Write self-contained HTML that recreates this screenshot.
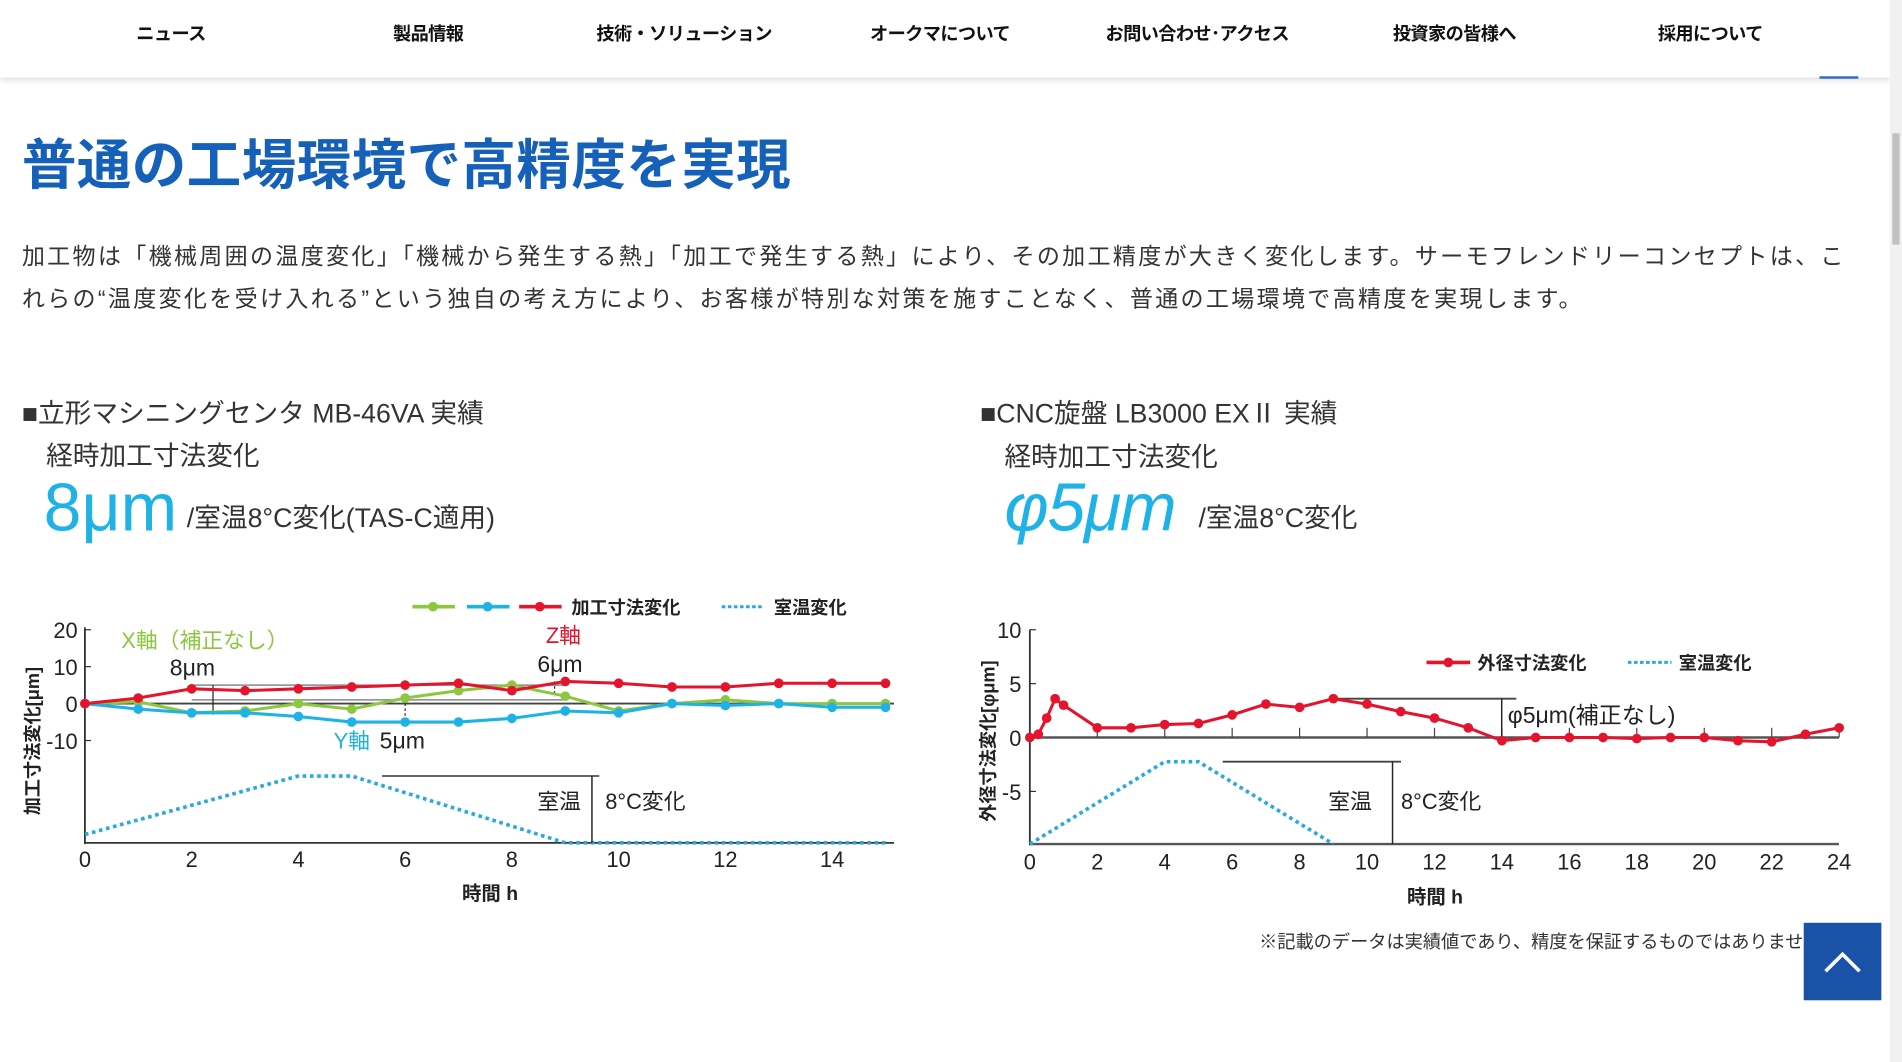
<!DOCTYPE html>
<html><head><meta charset="utf-8">
<style>
html,body{margin:0;padding:0;width:1902px;height:1062px;overflow:hidden;background:#fff;}
#wrap{position:absolute;left:0;top:0;width:1568px;height:877px;transform:scale(1.2130,1.2110);transform-origin:0 0;font-family:"Liberation Sans","Noto Sans CJK JP",sans-serif;color:#222;}
.abs{position:absolute;white-space:nowrap;}
#nav{position:absolute;left:0;top:0;width:1558px;height:64px;background:#fff;box-shadow:0 3px 5px rgba(0,0,0,0.12);}
#nav span{position:absolute;top:17px;font-size:15px;font-weight:bold;transform:translateX(-50%);color:#111;letter-spacing:-0.5px;}
</style></head><body>
<div id="wrap">
<div id="nav">
<span style="left:141px">ニュース</span>
<span style="left:353px">製品情報</span>
<span style="left:564px">技術・ソリューション</span>
<span style="left:775px">オークマについて</span>
<span style="left:987px">お問い合わせ･アクセス</span>
<span style="left:1199px">投資家の皆様へ</span>
<span style="left:1410px">採用について</span>
</div>
<div class="abs" style="left:1500px;top:63px;width:32px;height:2px;background:#2a6cc0"></div>
<div class="abs" style="left:1558px;top:0;width:10px;height:877px;background:#f1f1f1"><div style="position:absolute;left:2px;top:110px;width:6px;height:92px;background:#c1c1c1"></div></div>

<div class="abs" style="left:18px;top:100px;font-size:45px;font-weight:bold;color:#1560b8;letter-spacing:0.3px">普通の工場環境で高精度を実現</div>
<div class="abs" style="left:18px;top:195px;font-size:19px;line-height:35px;color:#333;letter-spacing:1.9px">加工物は「機械周囲の温度変化」「機械から発生する熱」「加工で発生する熱」により、その加工精度が大きく変化します。サーモフレンドリーコンセプトは、こ<br>れらの“温度変化を受け入れる”という独自の考え方により、お客様が特別な対策を施すことなく、普通の工場環境で高精度を実現します。</div>

<div class="abs" style="left:18px;top:324px;font-size:22px;color:#333">■立形マシニングセンタ MB-46VA 実績</div>
<div class="abs" style="left:38px;top:359px;font-size:22px;color:#333">経時加工寸法変化</div>
<div class="abs" style="left:36px;top:386px;font-size:56px;color:#1fb2e6">8μm</div>
<div class="abs" style="left:154px;top:410px;font-size:22px;color:#333">/室温8°C変化(TAS-C適用)</div>

<div class="abs" style="left:808px;top:324px;font-size:22px;color:#333">■CNC旋盤 LB3000 EXⅡ 実績</div>
<div class="abs" style="left:828px;top:360px;font-size:22px;color:#333">経時加工寸法変化</div>
<div class="abs" style="left:828px;top:386px;font-size:56px;color:#1fb2e6;font-style:italic;letter-spacing:-1px">φ5μm</div>
<div class="abs" style="left:988px;top:410px;font-size:22px;color:#333">/室温8°C変化</div>

<svg id="charts" class="abs" style="left:0;top:0" width="1568" height="877" font-family="Liberation Sans, Noto Sans CJK JP, sans-serif"></svg>

<div class="abs" style="left:1038px;top:767px;font-size:15px;color:#333">※記載のデータは実績値であり、精度を保証するものではありません。</div>
<div class="abs" style="left:1487px;top:762px;width:64px;height:64px;background:#1a52a8">
<svg width="64" height="64"><polyline points="18,40 32,26 46,40" fill="none" stroke="#fff" stroke-width="3"/></svg></div>
</div>
<script>
// Chart 1: MB-46VA
const c1Hours = [0,1,2,3,4,5,6,7,8,9,10,11,12,13,14,15];
const c1Z = [0,1.5,4,3.5,4,4.5,5,5.5,3.5,6,5.5,4.5,4.5,5.5,5.5,5.5];
const c1X = [0,0.5,-2.5,-2,0,-1.5,1.5,3.5,5,2,-2,0,1,0,0,0];
const c1Y = [0,-1.5,-2.5,-2.5,-3.5,-5,-5,-5,-4,-2,-2.5,0,-0.5,0,-1,-1];
const c1TempHours = [0,4,5,9,15];
const c1Temp = [1,8,8,0,0];
const c1YTicks = [20,10,0,-10];
const c1XTicks = [0,2,4,6,8,10,12,14];
// Chart 2: LB3000
const c2Hours = [0,0.25,0.5,0.75,1,2,3,4,5,6,7,8,9,10,11,12,13,14,15,16,17,18,19,20,21,22,23,24];
const c2D = [0,0.3,1.8,3.6,3.0,0.9,0.9,1.2,1.3,2.1,3.1,2.8,3.6,3.1,2.4,1.8,0.9,-0.3,0,0,0,-0.1,0,0,-0.3,-0.4,0.3,0.9];
const c2TempHours = [0,4,5,9];
const c2Temp = [0,8,8,0];
const c2YTicks = [10,5,0,-5];
const c2XTicks = [0,2,4,6,8,10,12,14,16,18,20,22,24];

const X1 = h => 70 + 44*h, Y1 = v => 581 - 3.05*v, T1 = t => 696 - 6.9*t;
const X2 = h => 849 + 27.8*h, Y2 = v => 609 - 8.9*v, T2 = t => 697 - 8.5*t;

const svg = document.getElementById('charts');
const NS = 'http://www.w3.org/2000/svg';
function mk(tag, attrs, parent){ const e=document.createElementNS(NS,tag); for(const k in attrs) e.setAttribute(k,attrs[k]); (parent||svg).appendChild(e); return e; }
function txt(x,y,s,attrs){ const t=mk('text',Object.assign({x:x,y:y,'font-size':17,fill:'#222'},attrs||{})); t.textContent=s; return t; }

let g1 = mk('g',{});


mk('line',{x1:70,y1:518,x2:70,y2:697,stroke:'#333','stroke-width':1.5},g1);
mk('line',{x1:70,y1:T1(0),x2:737,y2:T1(0),stroke:'#333','stroke-width':1.5},g1);
mk('line',{x1:70,y1:Y1(0),x2:737,y2:Y1(0),stroke:'#444','stroke-width':1.5},g1);
c1YTicks.forEach(v=>{ const t=txt(64,Y1(v)+7,String(v),{'text-anchor':'end','font-size':18});
  
 mk('line',{x1:70,y1:Y1(v),x2:75,y2:Y1(v),stroke:'#333'},g1); });
c1XTicks.forEach(h=>{ const t=txt(X1(h),716,String(h),{'text-anchor':'middle','font-size':18});
   });
mk('line',{x1:X1(2),y1:Y1(5),x2:X1(9),y2:Y1(5),stroke:'#888','stroke-width':1.2},g1);
mk('line',{x1:X1(2),y1:Y1(1),x2:X1(9),y2:Y1(1),stroke:'#888','stroke-width':1.2},g1);
mk('line',{x1:X1(2.4),y1:Y1(5),x2:X1(2.4),y2:Y1(-3),stroke:'#222','stroke-width':1},g1);
mk('line',{x1:X1(6),y1:Y1(0),x2:X1(6),y2:Y1(-5),stroke:'#222','stroke-width':1,'stroke-dasharray':'2,2'},g1);
mk('line',{x1:X1(8.8),y1:Y1(6),x2:X1(8.8),y2:Y1(2),stroke:'#222','stroke-width':1,'stroke-dasharray':'2,2'},g1);
mk('polyline',{points:c1TempHours.map((h,i)=>X1(h)+','+T1(c1Temp[i])).join(' '),fill:'none',stroke:'#2aa8e0','stroke-width':3,'stroke-dasharray':'3,3'},g1);
mk('line',{x1:315,y1:T1(8),x2:494,y2:T1(8),stroke:'#333','stroke-width':1.2},g1);
mk('line',{x1:488,y1:T1(8),x2:488,y2:T1(0),stroke:'#222','stroke-width':1.2},g1);
function series(xs,ys,X,Y,color,name,parent){
 const p=mk('polyline',{points:xs.map((h,i)=>X(h)+','+Y(ys[i])).join(' '),fill:'none',stroke:color,'stroke-width':2.5},parent);
  
 xs.forEach((h,i)=>{ const c=mk('circle',{cx:X(h),cy:Y(ys[i]),r:4,fill:color},parent);
    });
}
series(c1Hours,c1X,X1,Y1,'#8dc63f','x-axis-series',g1);
series(c1Hours,c1Y,X1,Y1,'#1fb2e6','y-axis-series',g1);
series(c1Hours,c1Z,X1,Y1,'#e4142c','z-axis-series',g1);
[['#8dc63f',340],['#1fb2e6',385],['#e4142c',428]].forEach(([c,x])=>{ mk('line',{x1:x,y1:501,x2:x+35,y2:501,stroke:c,'stroke-width':3},g1); mk('circle',{cx:x+17,cy:501,r:4,fill:c},g1); });
txt(471,507,'加工寸法変化',{'font-size':15,'font-weight':'bold'});
mk('line',{x1:595,y1:501,x2:630,y2:501,stroke:'#2aa8e0','stroke-width':2.5,'stroke-dasharray':'3,2'},g1);
txt(638,507,'室温変化',{'font-size':15,'font-weight':'bold'});
txt(100,535,'X軸（補正なし）',{'font-size':18,fill:'#8dc63f'});
txt(140,558,'8μm',{'font-size':19});
txt(450,531,'Z軸',{'font-size':18,fill:'#e4142c'});
txt(443,555,'6μm',{'font-size':19});
txt(275,618,'Y軸',{'font-size':18,fill:'#1fb2e6'});
txt(313,618,'5μm',{'font-size':19});
txt(443,668,'室温',{'font-size':18});
txt(499,668,'8°C変化',{'font-size':18});
txt(404,743,'時間 h',{'font-size':16,'font-weight':'bold','text-anchor':'middle'});
txt(0,0,'加工寸法変化[μm]',{'font-size':15,'font-weight':'bold','text-anchor':'middle',transform:'translate(32,612) rotate(-90)'});

let g2 = mk('g',{});


mk('line',{x1:849,y1:520,x2:849,y2:698,stroke:'#333','stroke-width':1.5},g2);
mk('line',{x1:849,y1:T2(0),x2:1516,y2:T2(0),stroke:'#555','stroke-width':2},g2);
mk('line',{x1:849,y1:Y2(0),x2:1516,y2:Y2(0),stroke:'#555','stroke-width':2},g2);
c2YTicks.forEach(v=>{ const t=txt(842,Y2(v)+7,String(v),{'text-anchor':'end','font-size':18});
  
 mk('line',{x1:849,y1:Y2(v),x2:854,y2:Y2(v),stroke:'#333'},g2); });
c2XTicks.forEach(h=>{ const t=txt(X2(h),718,String(h),{'text-anchor':'middle','font-size':18});
  
 if(h>0) mk('line',{x1:X2(h),y1:Y2(0),x2:X2(h),y2:Y2(0)-8,stroke:'#444'},g2); });
mk('polyline',{points:c2TempHours.map((h,i)=>X2(h)+','+T2(c2Temp[i])).join(' '),fill:'none',stroke:'#2aa8e0','stroke-width':3,'stroke-dasharray':'3,3'},g2);
mk('line',{x1:1008,y1:T2(8),x2:1155,y2:T2(8),stroke:'#444','stroke-width':1.5},g2);
mk('line',{x1:1148,y1:T2(8),x2:1148,y2:T2(0),stroke:'#222','stroke-width':1.2},g2);
mk('line',{x1:X2(9),y1:Y2(3.6),x2:1250,y2:Y2(3.6),stroke:'#444','stroke-width':1.5},g2);
mk('line',{x1:1238,y1:Y2(3.6),x2:1238,y2:Y2(0),stroke:'#222','stroke-width':1.2},g2);
series(c2Hours,c2D,X2,Y2,'#e4142c','outer-diameter-series',g2);
mk('line',{x1:1176,y1:547,x2:1212,y2:547,stroke:'#e4142c','stroke-width':3},g2);
mk('circle',{cx:1194,cy:547,r:4,fill:'#e4142c'},g2);
txt(1218,553,'外径寸法変化',{'font-size':15,'font-weight':'bold'});
mk('line',{x1:1342,y1:547,x2:1378,y2:547,stroke:'#2aa8e0','stroke-width':2.5,'stroke-dasharray':'3,2'},g2);
txt(1384,553,'室温変化',{'font-size':15,'font-weight':'bold'});
txt(1243,597,'φ5μm(補正なし)',{'font-size':19});
txt(1095,668,'室温',{'font-size':18});
txt(1155,668,'8°C変化',{'font-size':18});
txt(1183,746,'時間 h',{'font-size':16,'font-weight':'bold','text-anchor':'middle'});
txt(0,0,'外径寸法変化[φμm]',{'font-size':15,'font-weight':'bold','text-anchor':'middle',transform:'translate(820,612) rotate(-90)'});
</script>
</body></html>
